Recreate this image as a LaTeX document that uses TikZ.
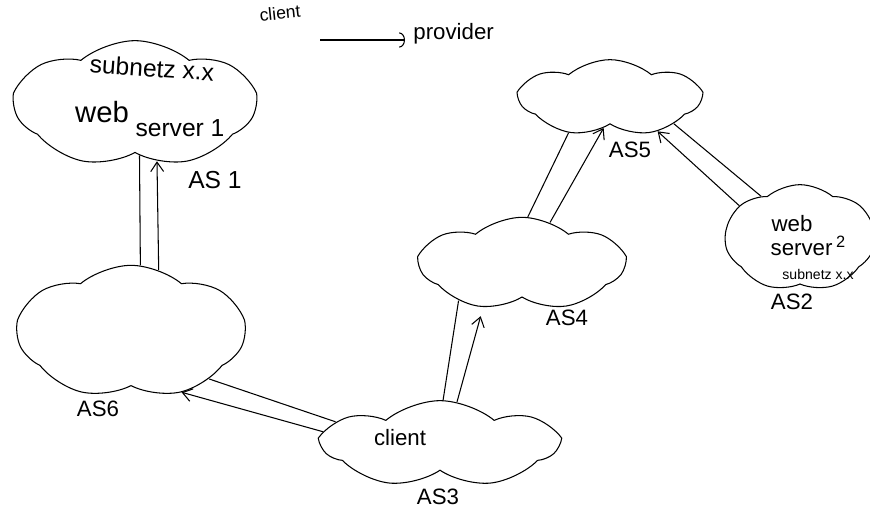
\documentclass[tikz,border=0pt]{standalone}
\usepackage{fontspec}
\setmainfont{Liberation Sans}
\usetikzlibrary{shapes.symbols, arrows.meta, positioning}

\tikzset{
  as/.style={cloud, draw, cloud puffs=7, cloud puff arc=80, cloud ignores aspect, line width=0.9pt, inner sep=0pt},
  link/.style={line width=0.9pt},
  up/.style={line width=0.9pt, -{Straight Barb[length=8pt,width=11pt]}},
  legarrow/.style={line width=0.9pt, -{Arc Barb[length=5pt,width=13pt]}},
  tinytext/.style={font=\fontsize{12}{14}\selectfont, inner sep=1pt},
  smalltext/.style={font=\fontsize{15}{17}\selectfont, inner sep=1pt},
  midtext/.style={font=\fontsize{19}{21}\selectfont, inner sep=1pt},
  bigtext/.style={font=\fontsize{21}{23}\selectfont, inner sep=1pt},
  hugetext/.style={font=\fontsize{25}{27}\selectfont, inner sep=1pt}
}

\begin{document}
\begin{tikzpicture}[x=0.03cm, y=-0.03cm]
\useasboundingbox (0,0) rectangle (870,511);
% legend
\node[smalltext, rotate=6] (legclient) at (280,13) {client};
\node[midtext, anchor=west] (legprov) at (412,34) {provider};
\coordinate (legtail) at (320,40);
\draw[legarrow] (legtail) -- (405,40);
% autonomous systems
\node[as, minimum width=7.2cm, minimum height=3.8cm] (as1) at (135,104) {};
\node[as, minimum width=6.8cm, minimum height=4.0cm] (as6) at (131,332) {};
\node[as, minimum width=7.0cm, minimum height=2.6cm] (as3) at (440,444) {};
\node[as, minimum width=6.1cm, minimum height=2.8cm] (as4) at (522,264) {};
\node[as, minimum width=5.4cm, minimum height=2.3cm] (as5) at (610,98) {};
\node[as, minimum width=4.5cm, minimum height=3.2cm] (as2) at (800,238) {};
% texts in the clouds
\node[bigtext, rotate=-4] (sub1) at (152,68) {subnetz x.x};
\node[hugetext] (web1) at (102,112) {web};
\node[bigtext] (srv1) at (180,128) {server 1};
\node[midtext] (web2) at (792,224) {web};
\node[midtext] (srv2) at (808,246) {server\,\raisebox{7pt}{\fontsize{14}{14}\selectfont 2}};
\node[tinytext] (sub2) at (818,274) {subnetz x.x};
\node[midtext] (cl3) at (400,438) {client};
% names
\node[bigtext] (n1) at (215,180) {AS 1};
\node[midtext] (n5) at (630,150) {AS5};
\node[midtext] (n4) at (567,318) {AS4};
\node[midtext] (n2) at (792,302) {AS2};
\node[midtext] (n6) at (98,409) {AS6};
\node[midtext] (n3) at (438,497) {AS3};
% links, client -> provider
\draw[link] (as6.82) -- (as1.-85);
\draw[up] (as6.66) -- (as1.-69);
\draw[link] (as3.168) -- (as6.-31);
\draw[up] (as3.174) -- (as6.-50);
\draw[link] (as3.86) -- (as4.-150);
\draw[up, shorten >=8pt] (as3.68) -- (as4.-132);
\draw[link] (as4.83) -- (as5.-140);
\draw[up] (as4.56) -- (as5.-102);
\draw[link] (as2.133) -- (as5.-22);
\draw[up] (as2.152) -- (as5.-35);
\end{tikzpicture}
\end{document}
